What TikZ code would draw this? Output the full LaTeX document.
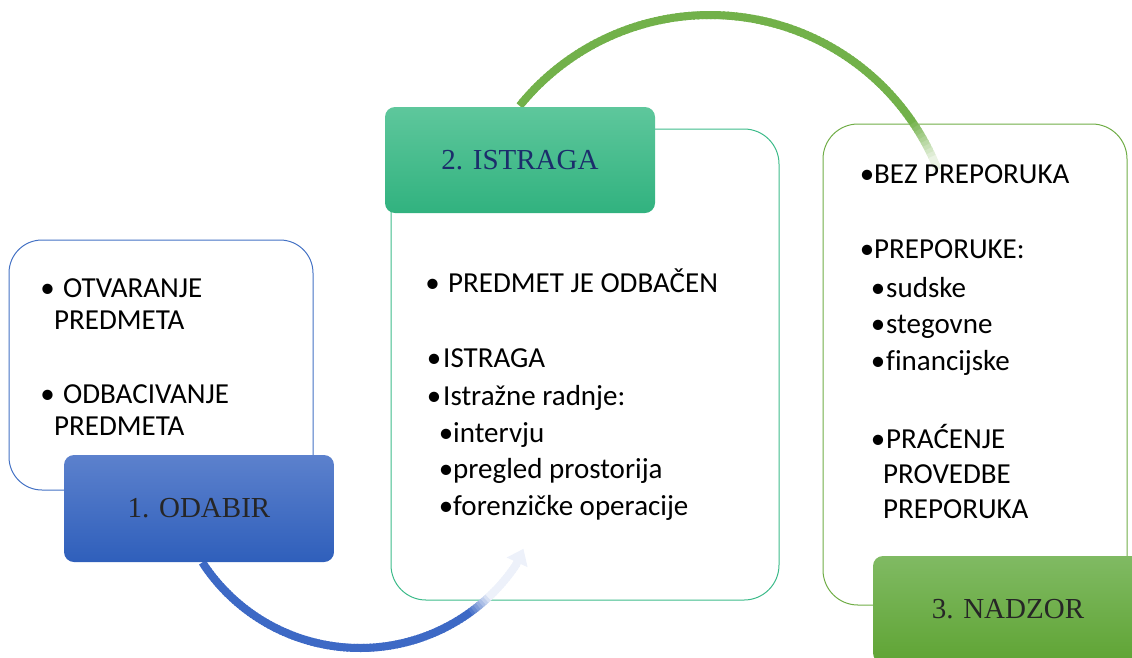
\documentclass[tikz,border=0pt]{standalone}
\usepackage{fontspec}
\usetikzlibrary{arrows.meta}
\newfontfamily\bodyfnt[Ligatures=CommonOff]{Carlito}
\newfontfamily\ttlfnt{Liberation Serif}
\definecolor{blueline}{HTML}{4472C4}
\definecolor{greenline2}{HTML}{3DBB8A}
\definecolor{greenline3}{HTML}{70AD47}
\definecolor{tone1top}{HTML}{5C81CD}
\definecolor{tone1bot}{HTML}{2F5FBB}
\definecolor{tone2top}{HTML}{5EC79C}
\definecolor{tone2bot}{HTML}{31B27F}
\definecolor{tone3top}{HTML}{80BA63}
\definecolor{tone3bot}{HTML}{5FA434}
\definecolor{ttldark}{HTML}{262626}
\definecolor{ttlnavy}{HTML}{1B2D6B}
\definecolor{arcblue}{HTML}{3D69C5}
\definecolor{arcbluepale}{HTML}{EDF1FA}
\definecolor{arcgreen}{HTML}{72B14A}
\definecolor{arcgreenpale}{HTML}{EAF3E3}
\tikzset{
  bodytxt/.style={font=\bodyfnt\fontsize{29}{35}\selectfont, anchor=base west, inner sep=0pt, text=black},
  bul/.style={font=\bodyfnt\fontsize{29}{35}\selectfont, anchor=base, inner sep=0pt, text=black},
  outbox/.style={draw, line width=1pt, fill=none, rounded corners=33pt, inner sep=0pt},
  ttlbox/.style={rounded corners=10pt, inner sep=0pt, minimum width=270pt, minimum height=107pt,
     font=\ttlfnt\fontsize{29}{35}\selectfont},
}
\begin{document}
\begin{tikzpicture}[x=1pt,y=-1pt]
\useasboundingbox (0,0) rectangle (1132,657);
\clip (0,0) rectangle (1132,657);
% outline boxes
\node[outbox, draw=blueline, minimum width=304pt, minimum height=250pt] (b1) at (161,365) {};
\node[outbox, draw=greenline2, minimum width=388pt, minimum height=471pt, rounded corners=35pt] (b2) at (585,364.5) {};
\node[outbox, draw=greenline3, minimum width=304pt, minimum height=481pt, rounded corners=35pt] (b3) at (975,364.5) {};
% blue arc (centre 360,460 r 188)
\foreach \t in {147,146,...,35}{
  \pgfmathsetmacro\p{max(0,min(100,(\t-47)*12.5))}
  \draw[line width=8pt, color=arcblue!\p!arcbluepale]
    ({360+188*cos(\t)},{460+188*sin(\t)}) -- ({360+188*cos(\t-1.4)},{460+188*sin(\t-1.4)});
}
\coordinate (ba) at ({360+188*cos(34)},{460+188*sin(34)});
\coordinate (bb) at ({360+186*cos(28.5)},{460+186*sin(28.5)});
\draw[line width=8pt, color=arcbluepale, -{Triangle[width=22pt,length=15pt]}] (ba) -- (bb);
% green arc (centre 710,260 r 245)
\foreach \t in {-141,-140,...,-23}{
  \pgfmathsetmacro\p{max(0,min(100,(-25-\t)*10))}
  \draw[line width=8pt, color=arcgreen!\p!arcgreenpale]
    ({710+245*cos(\t)},{260+245*sin(\t)}) -- ({710+245*cos(\t+1.4)},{260+245*sin(\t+1.4)});
}
% title boxes
\node[ttlbox, top color=tone1top, bottom color=tone1bot, text=ttldark] (t1) at (199,508.5) {1. ODABIR};
\node[ttlbox, top color=tone2top, bottom color=tone2bot, text=ttlnavy, minimum height=106pt] (t2) at (520,160) {2. ISTRAGA};
\node[ttlbox, top color=tone3top, bottom color=tone3bot, text=ttldark] (t3) at (1008,609.5) {3. NADZOR};
% box 1 text
\node[bul] (b1u1) at (47.5,297) {•};
\node[bodytxt] (b1l1) at (63,297) {OTVARANJE};
\node[bodytxt] (b1l2) at (54,329) {PREDMETA};
\node[bul] (b1u2) at (47.5,403) {•};
\node[bodytxt] (b1l3) at (63,403) {ODBACIVANJE};
\node[bodytxt] (b1l4) at (54,435) {PREDMETA};
% box 2 text
\node[bul] (b2u1) at (432.5,292) {•};
\node[bodytxt] (b2l1) at (448,292) {PREDMET JE ODBAČEN};
\node[bul] (b2u2) at (434,367) {•};
\node[bodytxt] (b2l2) at (443,367) {ISTRAGA};
\node[bul] (b2u3) at (434,405) {•};
\node[bodytxt] (b2l3) at (443,405) {Istražne radnje:};
\node[bul] (b2u4) at (446,442) {•};
\node[bodytxt] (b2l4) at (453,442) {intervju};
\node[bul] (b2u5) at (446,478) {•};
\node[bodytxt] (b2l5) at (453,478) {pregled prostorija};
\node[bul] (b2u6) at (446,515) {•};
\node[bodytxt] (b2l6) at (453,515) {forenzičke operacije};
% box 3 text
\node[bul] (b3u1) at (867,183) {•};
\node[bodytxt] (b3l1) at (874,183) {BEZ PREPORUKA};
\node[bul] (b3u2) at (867,258) {•};
\node[bodytxt] (b3l2) at (874,258) {PREPORUKE:};
\node[bul] (b3u3) at (878,297) {•};
\node[bodytxt] (b3l3) at (886,297) {sudske};
\node[bul] (b3u4) at (878,333) {•};
\node[bodytxt] (b3l4) at (886,333) {stegovne};
\node[bul] (b3u5) at (878,370) {•};
\node[bodytxt] (b3l5) at (886,370) {financijske};
\node[bul] (b3u6) at (878,448) {•};
\node[bodytxt] (b3l6) at (886,448) {PRAĆENJE};
\node[bodytxt] (b3l7) at (883,483) {PROVEDBE};
\node[bodytxt] (b3l8) at (883,518) {PREPORUKA};
\end{tikzpicture}
\end{document}
